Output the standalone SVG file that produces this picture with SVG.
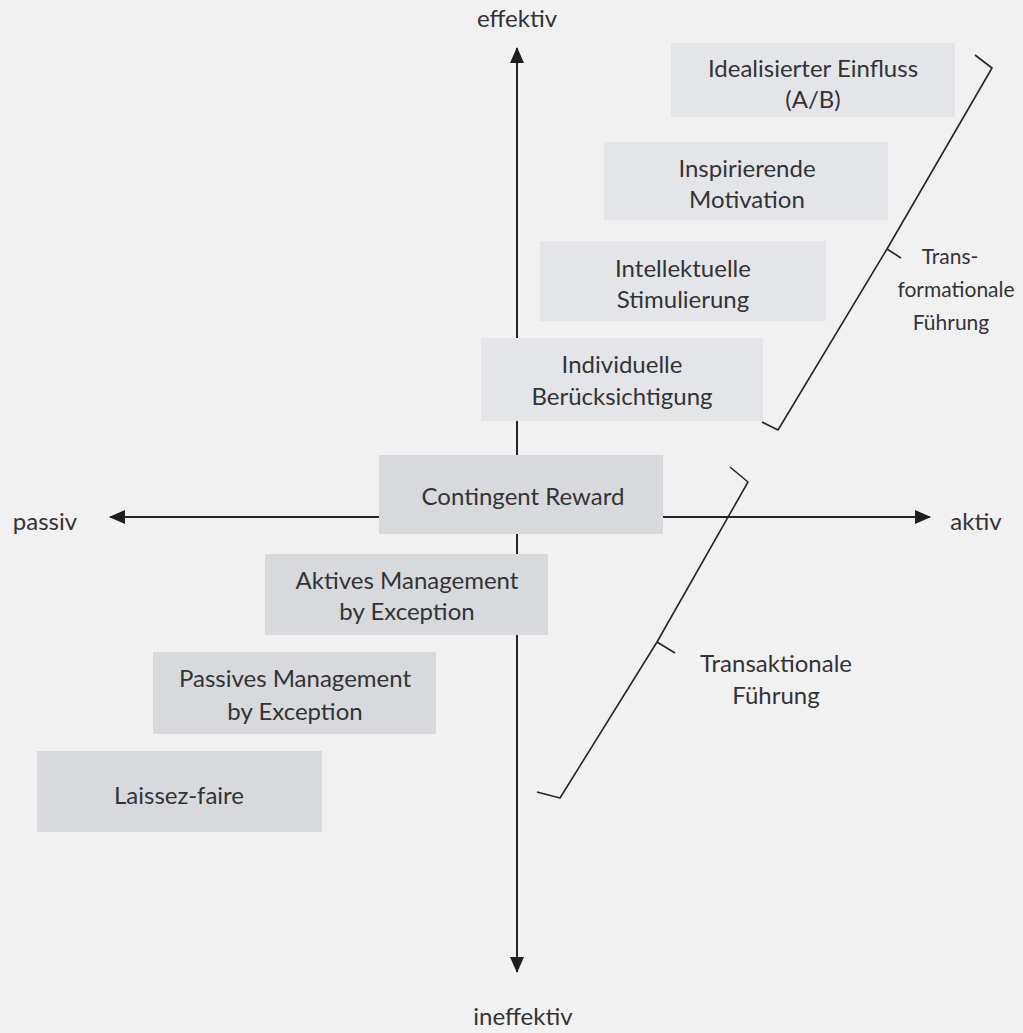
<svg xmlns="http://www.w3.org/2000/svg" width="1023" height="1033" viewBox="0 0 1023 1033">
  <style>
    text { font-family: Lato, "Open Sans", "Liberation Sans", sans-serif; font-size: 24px; fill: #333336; text-anchor: middle; }
    .small { font-size: 21px; }
    .axis { stroke: #262626; stroke-width: 2; fill: none; }
    .brace { stroke: #262626; stroke-width: 1.6; fill: none; stroke-linejoin: round; }
    .upper { fill: #e4e5e8; }
    .lower { fill: #d8d9dc; }
  </style>
  <defs>
    <marker id="arrow" viewBox="0 0 16 14" refX="15" refY="7" markerWidth="16" markerHeight="14" markerUnits="userSpaceOnUse" orient="auto">
      <path d="M0,0 L16,7 L0,14 Z" fill="#1e1e1e"/>
    </marker>
  </defs>
  <rect width="1023" height="1033" fill="#f1f1f1"/>

  <!-- axes and braces -->
  <g id="connectors">
    <line class="axis" x1="517" y1="470" x2="517" y2="48" marker-end="url(#arrow)"/>
    <line class="axis" x1="517" y1="470" x2="517" y2="972" marker-end="url(#arrow)"/>
    <line class="axis" x1="517" y1="517" x2="110" y2="517" marker-end="url(#arrow)"/>
    <line class="axis" x1="517" y1="517" x2="930" y2="517" marker-end="url(#arrow)"/>
    <path class="brace" d="M975,55 L992,68 L887,249 L901,258 M887,249 L778,430 L762,422"/>
    <path class="brace" d="M730,467 L748,482 L657,642 L675,653 M657,642 L560,798 L537,792"/>
  </g>

  <!-- axis labels -->
  <g id="label-effektiv"><text x="517" y="27">effektiv</text></g>
  <g id="label-ineffektiv"><text x="523" y="1025">ineffektiv</text></g>
  <g id="label-passiv"><text x="45" y="530">passiv</text></g>
  <g id="label-aktiv"><text x="976" y="530">aktiv</text></g>

  <!-- transformational components -->
  <g id="idealisierter-einfluss">
    <rect class="upper" x="671" y="43" width="284" height="74"/>
    <text x="813" y="77">Idealisierter Einfluss</text>
    <text x="813" y="108">(A/B)</text>
  </g>
  <g id="inspirierende-motivation">
    <rect class="upper" x="604" y="142" width="284" height="78"/>
    <text x="747" y="177">Inspirierende</text>
    <text x="747" y="208">Motivation</text>
  </g>
  <g id="intellektuelle-stimulierung">
    <rect class="upper" x="540" y="241" width="286" height="80"/>
    <text x="683" y="277">Intellektuelle</text>
    <text x="683" y="308">Stimulierung</text>
  </g>
  <g id="individuelle-beruecksichtigung">
    <rect class="upper" x="481" y="338" width="282" height="83"/>
    <text x="622" y="373">Individuelle</text>
    <text x="622" y="405">Berücksichtigung</text>
  </g>

  <!-- transactional components -->
  <g id="contingent-reward">
    <rect class="lower" x="379" y="455" width="284" height="79"/>
    <text x="523" y="505">Contingent Reward</text>
  </g>
  <g id="aktives-mbe">
    <rect class="lower" x="265" y="554" width="283" height="81"/>
    <text x="407" y="589">Aktives Management</text>
    <text x="407" y="620">by Exception</text>
  </g>
  <g id="passives-mbe">
    <rect class="lower" x="153" y="652" width="283" height="82"/>
    <text x="295" y="687">Passives Management</text>
    <text x="295" y="720">by Exception</text>
  </g>
  <g id="laissez-faire">
    <rect class="lower" x="37" y="751" width="285" height="81"/>
    <text x="179" y="804">Laissez-faire</text>
  </g>

  <!-- group labels -->
  <g id="label-transformational">
    <text class="small" x="950" y="264">Trans-</text>
    <text class="small" x="956" y="297">formationale</text>
    <text class="small" x="951" y="330">Führung</text>
  </g>
  <g id="label-transactional">
    <text x="776" y="672">Transaktionale</text>
    <text x="776" y="704">Führung</text>
  </g>
</svg>
